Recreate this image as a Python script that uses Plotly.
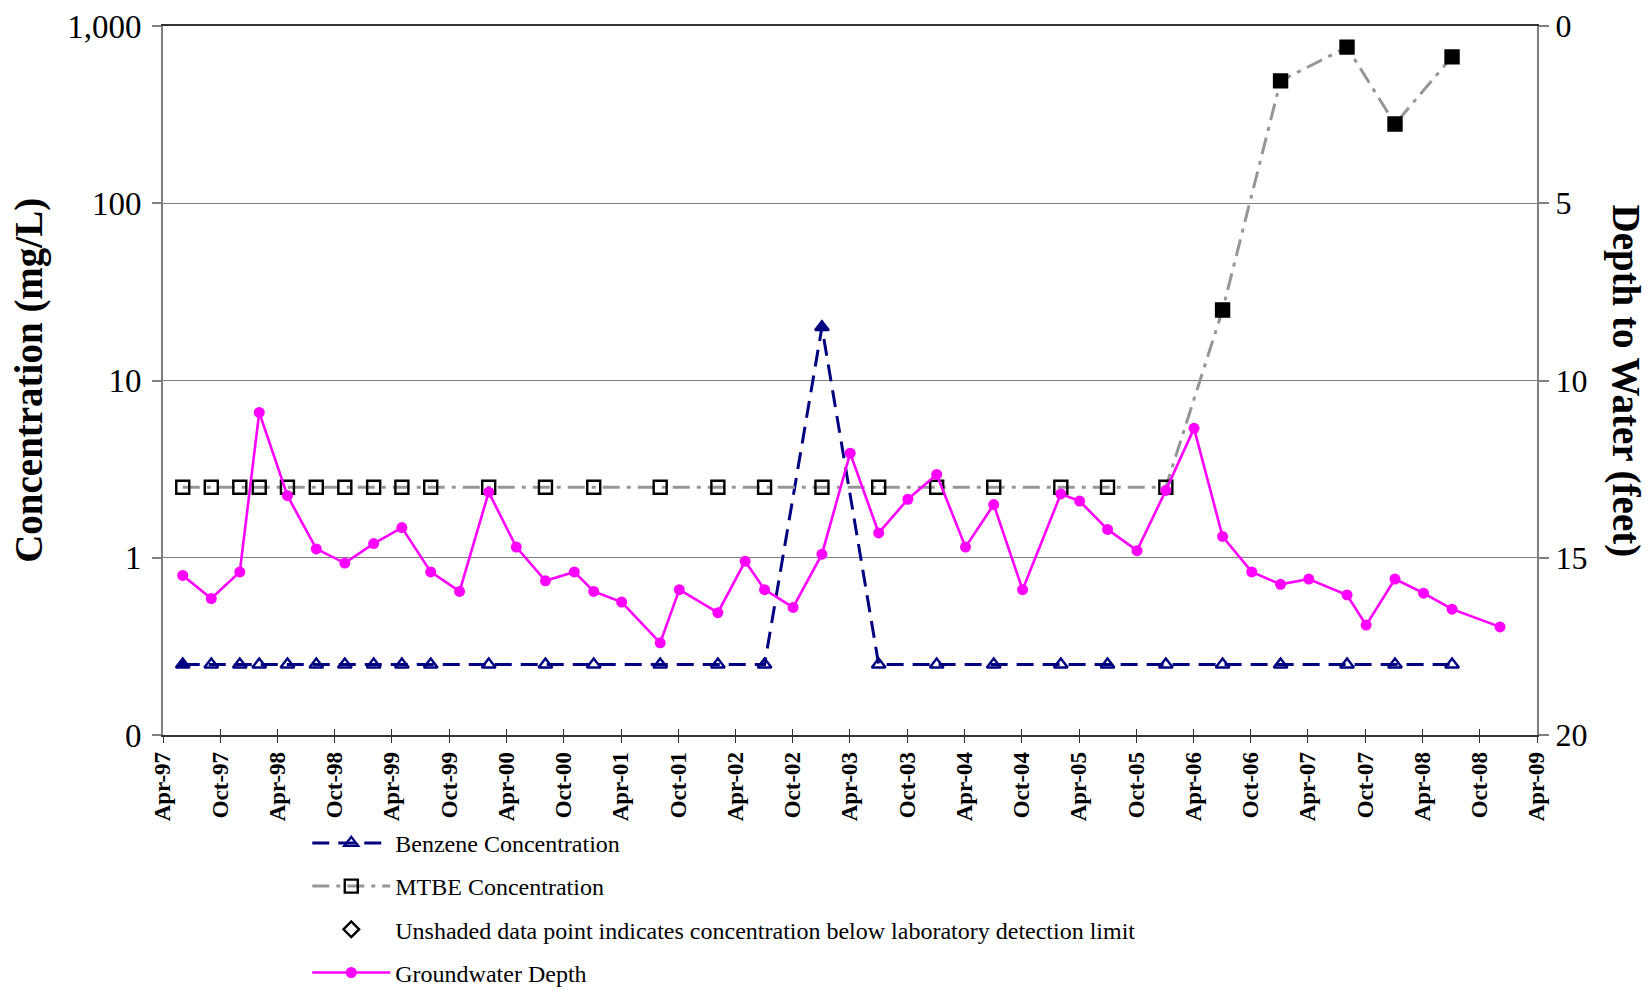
import plotly.graph_objects as go

# Groundwater depth measurements (feet below ground surface)
depth_dates = [
    "1997-06-03", "1997-09-02", "1997-12-02", "1998-02-02", "1998-05-03",
    "1998-08-03", "1998-11-02", "1999-02-02", "1999-05-03", "1999-08-03",
    "1999-11-03", "2000-02-04", "2000-05-02", "2000-08-03", "2000-11-03",
    "2001-01-04", "2001-04-03", "2001-08-04", "2001-10-04", "2002-02-04",
    "2002-05-02", "2002-07-03", "2002-10-02", "2003-01-02", "2003-04-02",
    "2003-07-02", "2003-10-03", "2004-01-03", "2004-04-04", "2004-07-03",
    "2004-10-03", "2005-02-02", "2005-04-03", "2005-07-01", "2005-10-03",
    "2006-01-03", "2006-04-03", "2006-07-03", "2006-10-04", "2007-01-04",
    "2007-04-04", "2007-08-04", "2007-10-04", "2008-01-04", "2008-04-04",
    "2008-07-04", "2008-12-04",
]
depth_ft = [
    15.5, 16.15, 15.4, 10.9, 13.25, 14.75, 15.15, 14.6, 14.15, 15.4,
    15.95, 13.15, 14.7, 15.65, 15.4, 15.95, 16.25, 17.4, 15.9, 16.55,
    15.1, 15.9, 16.4, 14.9, 12.05, 14.3, 13.35, 12.65, 14.7, 13.5,
    15.9, 13.2, 13.4, 14.2, 14.8, 13.1, 11.35, 14.4, 15.4, 15.75,
    15.6, 16.05, 16.9, 15.6, 16.0, 16.45, 16.95,
]

# Laboratory sampling events (mg/L)
conc_dates = [
    "1997-06-03", "1997-09-02", "1997-12-02", "1998-02-02", "1998-05-03",
    "1998-08-03", "1998-11-02", "1999-02-02", "1999-05-03", "1999-08-03",
    "2000-02-04", "2000-08-03", "2001-01-04", "2001-08-04", "2002-02-04",
    "2002-07-03", "2003-01-02", "2003-07-02", "2004-01-03", "2004-07-03",
    "2005-02-02", "2005-07-01", "2006-01-03", "2006-07-03", "2007-01-04",
    "2007-08-04", "2008-01-04", "2008-07-04",
]
benzene = [
    0.25, 0.25, 0.25, 0.25, 0.25, 0.25, 0.25, 0.25, 0.25, 0.25,
    0.25, 0.25, 0.25, 0.25, 0.25, 0.25, 20, 0.25, 0.25, 0.25,
    0.25, 0.25, 0.25, 0.25, 0.25, 0.25, 0.25, 0.25,
]
benzene_detected = [
    True, False, False, False, False, False, False, False, False, False,
    False, False, False, False, False, False, True, False, False, False,
    False, False, False, False, False, False, False, False,
]
mtbe = [
    2.5, 2.5, 2.5, 2.5, 2.5, 2.5, 2.5, 2.5, 2.5, 2.5,
    2.5, 2.5, 2.5, 2.5, 2.5, 2.5, 2.5, 2.5, 2.5, 2.5,
    2.5, 2.5, 2.5, 25, 490, 760, 280, 670,
]
mtbe_detected = [
    False, False, False, False, False, False, False, False, False, False,
    False, False, False, False, False, False, False, False, False, False,
    False, False, False, True, True, True, True, True,
]

conc_tickvals = [0.1, 1, 10, 100, 1000]
conc_ticktext = ["0", "1", "10", "100", "1,000"]
depth_tickvals = [0, 5, 10, 15, 20]

NAVY = "#000080"
MAGENTA = "#FF00FF"
GRAY_LINE = "#969696"
AXIS_GRAY = "#808080"
FONT = "Liberation Serif"

BENZ_LINE = dict(color=NAVY, width=3, dash="17px,9px")
MTBE_LINE = dict(color=GRAY_LINE, width=3, dash="17px,7px,4px,7px")
DEPTH_LINE = dict(color=MAGENTA, width=2.6)

fig = go.Figure()

# Benzene
fig.add_trace(go.Scatter(
    x=conc_dates, y=benzene, mode="lines+markers", showlegend=False,
    line=BENZ_LINE,
    marker=dict(
        symbol=["triangle-up" if d else "triangle-up-open" for d in benzene_detected],
        size=12, color=NAVY, line=dict(color=NAVY, width=2.4),
    ),
))

# MTBE
fig.add_trace(go.Scatter(
    x=conc_dates, y=mtbe, mode="lines+markers", showlegend=False,
    line=MTBE_LINE,
    marker=dict(
        symbol=["square" if d else "square-open" for d in mtbe_detected],
        size=13, color="black", line=dict(color="black", width=2.4),
    ),
))

# Groundwater depth on the reversed right axis
fig.add_trace(go.Scatter(
    x=depth_dates, y=depth_ft, yaxis="y2", mode="lines+markers", showlegend=False,
    line=DEPTH_LINE,
    marker=dict(symbol="circle", size=11, color=MAGENTA),
))

# Legend entries
fig.add_trace(go.Scatter(
    x=[None], y=[None], mode="lines+markers", name="Benzene Concentration",
    legendgroup="a", line=BENZ_LINE,
    marker=dict(symbol="triangle-up-open", size=12, color=NAVY, line=dict(width=2.4)),
))
fig.add_trace(go.Scatter(
    x=[None], y=[None], mode="lines+markers", name="MTBE Concentration",
    legendgroup="b", line=MTBE_LINE,
    marker=dict(symbol="square-open", size=13, color="black", line=dict(width=2.4)),
))
fig.add_trace(go.Scatter(
    x=[None], y=[None], mode="markers",
    name="Unshaded data point indicates concentration below laboratory detection limit",
    legendgroup="c",
    marker=dict(symbol="diamond-open", size=12, color="black", line=dict(width=2.4)),
))
fig.add_trace(go.Scatter(
    x=[None], y=[None], yaxis="y2", mode="lines+markers", name="Groundwater Depth",
    legendgroup="d", line=DEPTH_LINE,
    marker=dict(symbol="circle", size=11, color=MAGENTA),
))

# empty trace so the inside-tick overlay axis is drawn
fig.add_trace(go.Scatter(x=[None], y=[None], xaxis="x2", showlegend=False, hoverinfo="skip"))

date_range = ["1997-04-01", "2009-04-01"]

fig.update_layout(
    width=1648, height=990,
    margin=dict(l=163, r=111, t=26, b=255, autoexpand=False),
    paper_bgcolor="white", plot_bgcolor="white",
    font=dict(family=FONT, color="black"),
    xaxis=dict(
        type="date", range=date_range, tick0="1997-04-01", dtick="M6",
        tickformat="%b-%y", tickangle=-90,
        tickfont=dict(family=FONT, size=23, weight="bold", color="black"),
        ticks="outside", ticklen=6, tickwidth=1.2, tickcolor="#333333",
        showline=True, linecolor="#333333", linewidth=1.5, mirror=True,
        showgrid=False, zeroline=False,
    ),
    xaxis2=dict(
        type="date", range=date_range, tick0="1997-04-01", dtick="M6",
        overlaying="x", side="bottom", anchor="y",
        ticks="inside", ticklen=6, tickwidth=1.2, tickcolor="#333333",
        showticklabels=False, showgrid=False, showline=False, zeroline=False,
    ),
    yaxis=dict(
        type="log", range=[-1, 3],
        tickvals=conc_tickvals, ticktext=conc_ticktext,
        tickfont=dict(family=FONT, size=33, color="black"),
        ticks="outside", ticklen=9, tickcolor=AXIS_GRAY, tickwidth=1.5,
        ticklabelstandoff=4,
        showline=True, linecolor=AXIS_GRAY, linewidth=2,
        showgrid=True, gridcolor=AXIS_GRAY, gridwidth=1.2, zeroline=False,
    ),
    yaxis2=dict(
        overlaying="y", side="right", range=[20, 0],
        tickvals=depth_tickvals,
        tickfont=dict(family=FONT, size=32, color="black"),
        ticks="outside", ticklen=10, tickcolor=AXIS_GRAY, tickwidth=1.5,
        showline=True, linecolor=AXIS_GRAY, linewidth=2,
        showgrid=False, zeroline=False,
    ),
    legend=dict(
        x=0.105, y=-0.121, xanchor="left", yanchor="top",
        orientation="v", itemwidth=78, tracegroupgap=9,
        font=dict(family=FONT, size=24, color="black"),
        bgcolor="rgba(0,0,0,0)",
    ),
    annotations=[
        dict(text="<b>Concentration (mg/L)</b>", xref="paper", yref="paper",
             x=-0.098, y=0.5, xanchor="center", yanchor="middle",
             textangle=-90, showarrow=False,
             font=dict(family=FONT, size=39, color="black")),
        dict(text="<b>Depth to Water (feet)</b>", xref="paper", yref="paper",
             x=1.0648, y=0.5, xanchor="center", yanchor="middle",
             textangle=90, showarrow=False,
             font=dict(family=FONT, size=39, color="black")),
    ],
)

fig.write_html("out.html")
